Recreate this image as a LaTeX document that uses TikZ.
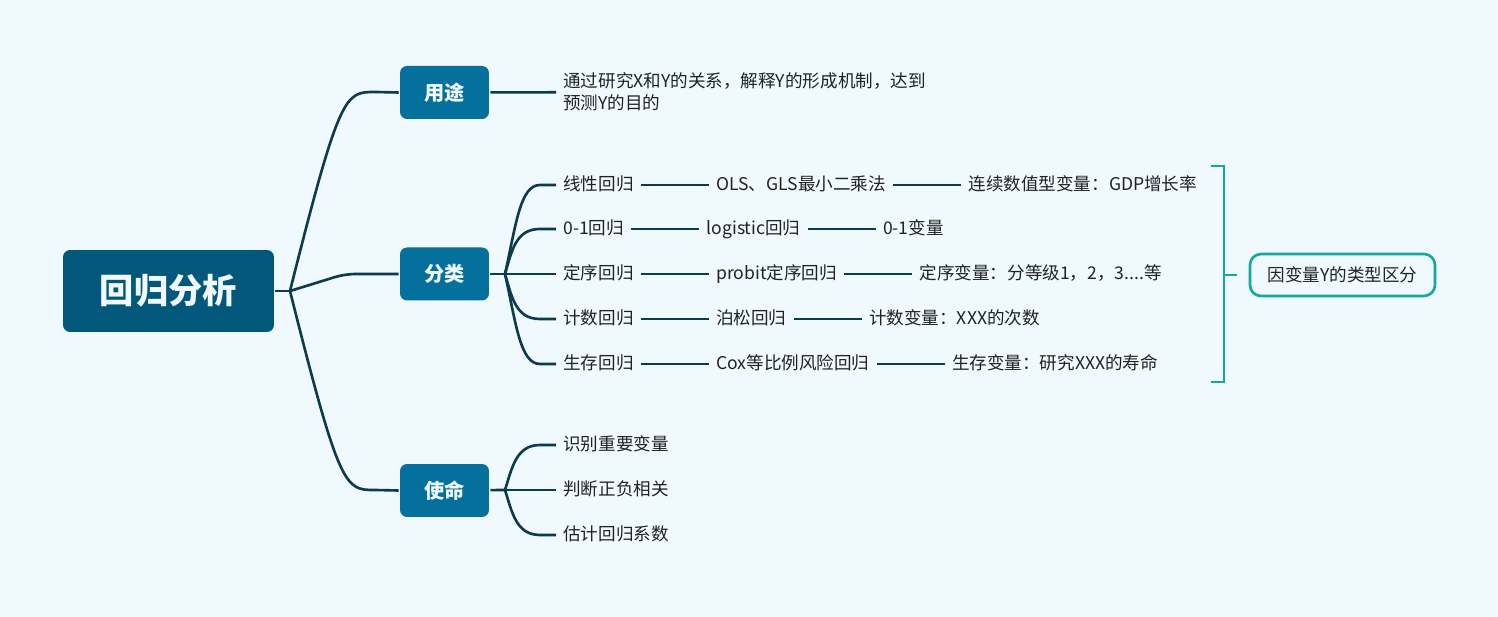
\documentclass[tikz,border=0pt]{standalone}
\usepackage{fontspec}
\setmainfont{Noto Sans CJK SC}
\usepackage{tikz}
\usetikzlibrary{positioning}

\definecolor{bgblue}{HTML}{EFF9FE}
\definecolor{rootblue}{HTML}{02587A}
\definecolor{mainblue}{HTML}{05709B}
\definecolor{linkblue}{HTML}{0D3B4E}
\definecolor{sideteal}{HTML}{14A99B}
\definecolor{textgray}{HTML}{222222}

\begin{document}
\begin{tikzpicture}[x=0.02cm,y=-0.02cm,line width=1.5pt,draw=linkblue,node distance=1.36cm,
  root node/.style={rectangle,rounded corners=0.14cm,fill=rootblue,text=bgblue,minimum width=4.22cm,
    minimum height=1.64cm,font=\fontsize{19.5pt}{24pt}\selectfont\bfseries},
  main node/.style={rectangle,rounded corners=0.14cm,fill=mainblue,text=bgblue,minimum width=1.78cm,
    minimum height=1.06cm,font=\fontsize{11.5pt}{14pt}\selectfont\bfseries},
  leaf node/.style={inner sep=0.12cm,text=textgray,text height=0.8em,text depth=0.22em,
    font=\fontsize{10pt}{12pt}\selectfont},
  note node/.style={inner sep=0.12cm,text=textgray,align=left,font=\fontsize{10pt}{12.5pt}\selectfont},
  side node/.style={rectangle,rounded corners=0.22cm,draw=sideteal,fill=bgblue,text=textgray,
    minimum width=3.7cm,minimum height=0.84cm,font=\fontsize{10pt}{12pt}\selectfont}]

  \fill[bgblue] (0,0) rectangle (1498,617);

  % root and main topics
  \node[root node] (root) at (168.5,291) {回归分析};
  \node[main node] (use) at (444.5,92.5) {用途};
  \node[main node] (cls) at (444.5,274) {分类};
  \node[main node] (duty) at (444.5,490.5) {使命};
  \coordinate (fork) at (290,291);
  \coordinate (clsfork) at (505,274);
  \coordinate (dutyfork) at (505,490);

  % 用途
  \node[note node,anchor=west] (usetext) at (556,92) {通过研究X和Y的关系，解释Y的形成机制，达到\\预测Y的目的};

  % 分类
  \node[leaf node,anchor=west] (lin) at (556,185) {线性回归};
  \node[leaf node,right=of lin] (ols) {OLS、GLS最小二乘法};
  \node[leaf node,right=of ols] (linvar) {连续数值型变量：GDP增长率};

  \node[leaf node,anchor=west] (bin) at (556,229) {0-1回归};
  \node[leaf node,right=of bin] (logit) {logistic回归};
  \node[leaf node,right=of logit] (binvar) {0-1变量};

  \node[leaf node,anchor=west] (ord) at (556,274) {定序回归};
  \node[leaf node,right=of ord] (probit) {probit定序回归};
  \node[leaf node,right=of probit] (ordvar) {定序变量：分等级1，2，3....等};

  \node[leaf node,anchor=west] (cnt) at (556,319) {计数回归};
  \node[leaf node,right=of cnt] (pois) {泊松回归};
  \node[leaf node,right=of pois] (cntvar) {计数变量：XXX的次数};

  \node[leaf node,anchor=west] (surv) at (556,364) {生存回归};
  \node[leaf node,right=of surv] (cox) {Cox等比例风险回归};
  \node[leaf node,right=of cox] (survvar) {生存变量：研究XXX的寿命};

  % 使命
  \node[leaf node,anchor=west] (idf) at (556,445) {识别重要变量};
  \node[leaf node,anchor=west] (sign) at (556,490) {判断正负相关};
  \node[leaf node,anchor=west] (est) at (556,535) {估计回归系数};

  % side note
  \node[side node,line width=1.5pt] (yvar) at (1342.5,275) {因变量Y的类型区分};
  \coordinate (btop) at (1211,166);
  \coordinate (bbot) at (1211,382);
  \coordinate (bmid) at (1224,275);

  % links
  \draw (root) -- (fork);
  \draw (fork) .. controls (340,92) and (345,92) .. (375,92) -- (use.west);
  \draw[rounded corners=0.2cm] (fork) -- (345,274) -- (cls.west);
  \draw (fork) .. controls (340,490) and (345,490) .. (375,490) -- (duty.west);
  \draw (use) -- (usetext);

  \draw (cls) -- (clsfork);
  \draw (clsfork) .. controls (516,225) and (520,185) .. (540,185) -- (lin.west);
  \draw (clsfork) .. controls (512,250) and (516,229) .. (540,229) -- (bin.west);
  \draw (clsfork) -- (ord.west);
  \draw (clsfork) .. controls (512,298) and (516,319) .. (540,319) -- (cnt.west);
  \draw (clsfork) .. controls (516,323) and (520,364) .. (540,364) -- (surv.west);

  \path (lin) edge (ols) (ols) edge (linvar)
    (bin) edge (logit) (logit) edge (binvar)
    (ord) edge (probit) (probit) edge (ordvar)
    (cnt) edge (pois) (pois) edge (cntvar)
    (surv) edge (cox) (cox) edge (survvar);

  \draw (duty) -- (dutyfork);
  \draw (dutyfork) .. controls (512,468) and (516,445) .. (540,445) -- (idf.west);
  \draw (dutyfork) -- (sign.west);
  \draw (dutyfork) .. controls (512,512) and (516,535) .. (540,535) -- (est.west);

  \draw[sideteal] (btop) -- (1224,166) -- (1224,382) -- (bbot);
  \draw[sideteal] (bmid) -- ++(13,0);
\end{tikzpicture}
\end{document}
